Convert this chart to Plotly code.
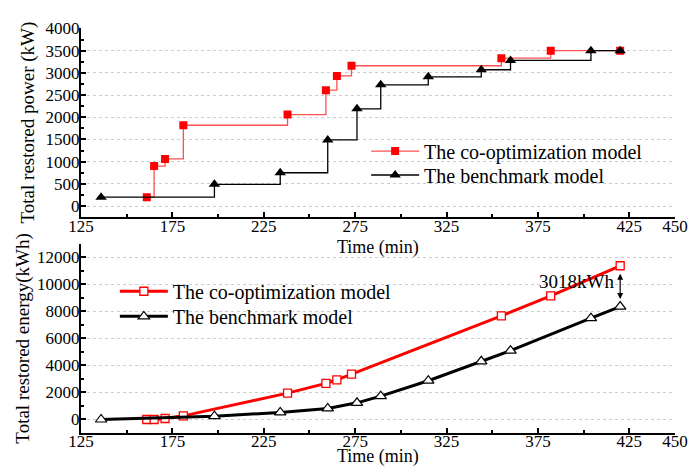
import plotly.graph_objects as go

# ---- data ----
time_co = [161, 165, 171, 181, 238, 259, 265, 273, 355, 382, 420]
power_co = [200, 900, 1060, 1820, 2060, 2610, 2930, 3160, 3330, 3500, 3500]
energy_co = [0, 0, 75, 270, 1950, 2670, 2940, 3360, 7670, 9150, 11380]

time_bm = [136, 198, 234, 260, 276, 289, 315, 344, 360, 404, 420]
power_bm = [200, 490, 750, 1490, 2190, 2730, 2910, 3070, 3280, 3500, 3500]
energy_bm = [0, 245, 520, 816, 1232, 1730, 2870, 4305, 5095, 7500, 8360]

x_tickvals = [125, 175, 225, 275, 325, 375, 425, 450]

name_co = "The co-optimization model"
name_bm = "The benchmark model"
gap_label = "3018kWh"
x_title = "Time (min)"

FONT = "Liberation Serif"

fig = go.Figure()

# top: step chart
fig.add_trace(go.Scatter(
    x=time_co, y=power_co, name=name_co, mode="lines+markers",
    line=dict(shape="hv", color="#ff5050", width=1.3),
    marker=dict(symbol="square", color="red", size=8),
    xaxis="x", yaxis="y", legend="legend", showlegend=True))
fig.add_trace(go.Scatter(
    x=time_bm, y=power_bm, name=name_bm, mode="lines+markers",
    line=dict(shape="hv", color="black", width=1.3),
    marker=dict(symbol="triangle-up", color="black", size=10),
    xaxis="x", yaxis="y", legend="legend2", showlegend=True))

# bottom: cumulative energy
fig.add_trace(go.Scatter(
    x=time_co, y=energy_co, name=name_co, mode="lines+markers",
    line=dict(color="red", width=3),
    marker=dict(symbol="square", color="white", size=8,
                line=dict(color="red", width=1.3)),
    xaxis="x2", yaxis="y2", legend="legend3", showlegend=True))
fig.add_trace(go.Scatter(
    x=time_bm, y=energy_bm, name=name_bm, mode="lines+markers",
    line=dict(color="black", width=3),
    marker=dict(symbol="triangle-up", color="white", size=10,
                line=dict(color="black", width=1.2)),
    xaxis="x2", yaxis="y2", legend="legend4", showlegend=True))

# gap annotation (double arrow)
fig.add_annotation(x=time_co[-1], y=energy_co[-1] - 600, ax=time_co[-1], ay=energy_bm[-1] + 450,
                   xref="x2", yref="y2", axref="x2", ayref="y2",
                   showarrow=True, arrowhead=2, arrowside="end+start", arrowsize=1,
                   arrowwidth=1.2, arrowcolor="black", text="")
fig.add_annotation(x=396.3, y=10190, xref="x2", yref="y2", text=gap_label,
                   showarrow=False, font=dict(family=FONT, size=19, color="black"))

# x-axis titles
for ytitle in (0.459, -0.059):
    fig.add_annotation(x=0.5, y=ytitle, xref="paper", yref="paper", text=x_title,
                       showarrow=False, yanchor="middle",
                       font=dict(family=FONT, size=18, color="black"))

common_x = dict(range=[125, 450], tickmode="array", tickvals=x_tickvals,
                showline=True, linecolor="black",
                linewidth=2, ticks="inside", ticklen=5, tickwidth=1.5, tickcolor="black",
                minor=dict(dtick=25, tick0=125, ticks="inside", ticklen=3, tickwidth=1.5, tickcolor="black"),
                showgrid=False, zeroline=False, automargin=False, ticklabelstandoff=-8,
                tickfont=dict(family=FONT, size=17, color="black"))
common_y = dict(showline=True, linecolor="black", linewidth=2, ticks="inside",
                ticklen=5, tickwidth=1.5, tickcolor="black", automargin=False,
                ticklabelstandoff=-4,
                showgrid=True, gridcolor="#cccccc", griddash="dot", gridwidth=1,
                zeroline=False, tickfont=dict(family=FONT, size=17, color="black"))

leg = dict(xanchor="left", yanchor="middle", bgcolor="rgba(0,0,0,0)", itemwidth=48,
           font=dict(family=FONT, size=20, color="black"))

fig.update_layout(
    width=693, height=469,
    showlegend=True,
    margin=dict(l=81, r=18, t=28, b=36),
    paper_bgcolor="white", plot_bgcolor="white",
    font=dict(family=FONT, color="black"),
    xaxis=dict(common_x, domain=[0, 1], anchor="y"),
    yaxis=dict(common_y, domain=[0.533, 1], anchor="x", range=[-250, 4010], dtick=500,
               minor=dict(dtick=250, ticks="inside", ticklen=3, tickwidth=1.5, tickcolor="black"),
               title=dict(text="Total restored power (kW)", font=dict(family=FONT, size=19, color="black"), standoff=6)),
    xaxis2=dict(common_x, domain=[0, 1], anchor="y2"),
    yaxis2=dict(common_y, domain=[0, 0.467], anchor="x2", range=[-1000, 13000], dtick=2000,
                tickformat="d",
                minor=dict(dtick=1000, ticks="inside", ticklen=3, tickwidth=1.5, tickcolor="black"),
                title=dict(text="Total restored energy(kWh)", font=dict(family=FONT, size=19, color="black"), standoff=2)),
    legend=dict(leg, x=0.480, y=0.696),
    legend2=dict(leg, x=0.480, y=0.637),
    legend3=dict(leg, x=0.057, y=0.350),
    legend4=dict(leg, x=0.057, y=0.288),
)

fig.write_html("out.html", config={"displayModeBar": False},
               post_script="document.body.style.margin='0px';")
